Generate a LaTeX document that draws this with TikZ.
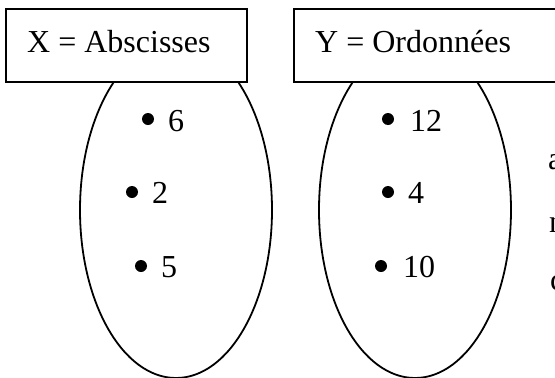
\documentclass[tikz,border=0pt]{standalone}
\usepackage{fontspec}
\setmainfont{Liberation Serif}
\begin{document}
\begin{tikzpicture}[x=1pt,y=-1pt,
  txt/.style={inner sep=0pt, anchor=base west, font=\fontsize{32}{38}\selectfont},
  titlebox/.style={draw=black, line width=1.5pt, fill=white},
  setshape/.style={draw=black, line width=1.8pt},
  dot/.style={circle, fill=black, inner sep=0pt, minimum size=12pt}]
\useasboundingbox (0,0) rectangle (555,378);
\begin{scope}
\clip (0,0) rectangle (555,378);
% the two sets
\draw[setshape] (176,210) ellipse [x radius=96, y radius=168];
\draw[setshape] (415,210) ellipse [x radius=96, y radius=168];
% title boxes over the tops of the sets
\draw[titlebox] (6,9) rectangle (247,82);
\draw[titlebox] (294,9) rectangle (555.5,82);
\node[txt] (tx) at (27,52) {X = Abscisses};
\node[txt] (ty) at (315,52) {Y = Ordonnées};
% elements of X
\node[dot] (x1) at (148,119) {};
\node[txt] (lx1) at (168,131) {6};
\node[dot] (x2) at (132,192) {};
\node[txt] (lx2) at (152,203) {2};
\node[dot] (x3) at (141,266) {};
\node[txt] (lx3) at (161,277) {5};
% elements of Y
\node[dot] (y1) at (388,119) {};
\node[txt] (ly1) at (410,131) {12};
\node[dot] (y2) at (388,192) {};
\node[txt] (ly2) at (408,203) {4};
\node[dot] (y3) at (381,266) {};
\node[txt] (ly3) at (403,277) {10};
% text running on beyond the right edge
\node[txt] (r1) at (548,169) {a};
\node[txt] (r2) at (549,232) {n};
\node[txt] (r3) at (550,290) {c};
\end{scope}
\end{tikzpicture}
\end{document}
